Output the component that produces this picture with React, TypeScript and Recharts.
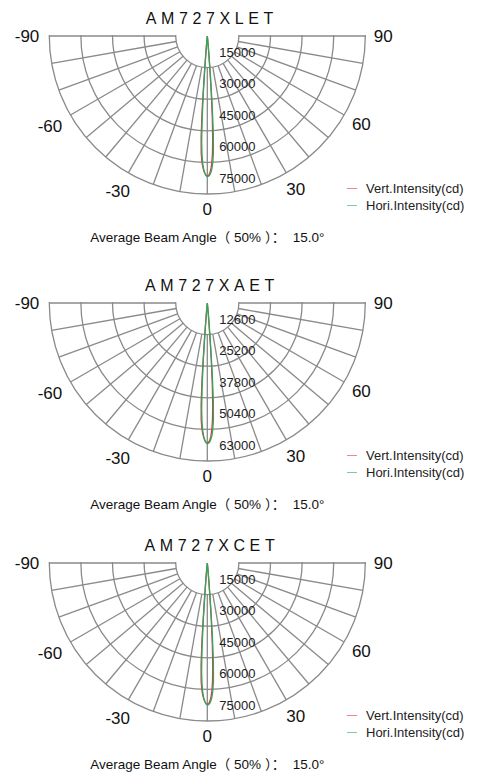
// @ts-nocheck
import { RadarChart, Radar, PolarGrid, PolarAngleAxis, PolarRadiusAxis, Legend } from "recharts";

// angles in degrees, -90 (left) .. 0 (down) .. 90 (right)
const ANGLES = [-90, -60, -30, -20, -10, -8, -7, -6, -5.5, -5, -4.5, -4, -3.5, -3, -2.5, -2, -1.5, -1, -0.5, 0,
  0.5, 1, 1.5, 2, 2.5, 3, 3.5, 4, 4.5, 5, 5.5, 6, 7, 8, 10, 20, 30, 60, 90];

const ANGLE_TICKS = [-90, -80, -70, -60, -50, -40, -30, -20, -10, 0, 10, 20, 30, 40, 50, 60, 70, 80, 90];

const XLET_RINGS = [15000, 30000, 45000, 60000, 75000];
const XAET_RINGS = [12600, 25200, 37800, 50400, 63000];
const XCET_RINGS = [15000, 30000, 45000, 60000, 75000];

const XLET_VERT = [0, 0, 0, 0, 0, 0, 0, 800, 2500, 7000, 18000, 35000, 48000, 55500, 59500, 62000, 64000, 65300, 66200, 66500,
  66200, 65200, 63500, 60500, 56000, 49000, 39000, 27000, 15000, 7000, 3000, 1200, 300, 0, 0, 0, 0, 0, 0];
const XLET_HORI = [0, 0, 0, 0, 0, 0, 0, 500, 1800, 5000, 13000, 27000, 41000, 51000, 57000, 61000, 63500, 65200, 66300, 66800,
  66600, 66000, 64800, 63000, 60000, 55500, 47000, 34000, 19000, 8000, 3000, 1000, 200, 0, 0, 0, 0, 0, 0];

const XAET_VERT = [0, 0, 0, 0, 0, 0, 0, 700, 2100, 5900, 15100, 29400, 40300, 46600, 50000, 52100, 53800, 54900, 55600, 55900,
  55600, 54800, 53300, 50800, 47000, 41200, 32800, 22700, 12600, 5900, 2500, 1000, 250, 0, 0, 0, 0, 0, 0];
const XAET_HORI = [0, 0, 0, 0, 0, 0, 0, 400, 1500, 4200, 10900, 22700, 34400, 42800, 47900, 51200, 53300, 54800, 55700, 56100,
  55900, 55400, 54400, 52900, 50400, 46600, 39500, 28600, 16000, 6700, 2500, 800, 170, 0, 0, 0, 0, 0, 0];

const XCET_VERT = [0, 0, 0, 0, 0, 0, 0, 900, 2700, 7300, 18500, 35500, 48500, 56000, 60000, 62600, 64600, 65900, 66800, 67100,
  66800, 65800, 64100, 61100, 56600, 49500, 39500, 27500, 15300, 7200, 3100, 1200, 300, 0, 0, 0, 0, 0, 0];
const XCET_HORI = [0, 0, 0, 0, 0, 0, 0, 500, 1900, 5200, 13400, 27500, 41500, 51600, 57600, 61600, 64100, 65800, 66900, 67400,
  67200, 66600, 65400, 63600, 60600, 56000, 47500, 34500, 19300, 8200, 3100, 1000, 200, 0, 0, 0, 0, 0, 0];

const BEAM = "15.0°";

const W = 477;
const H = 250;
const CX = 207.3;
const CY = 36;
const OUTER = 158;
const INNER = OUTER / 5;
const FONT = '"Liberation Sans", Arial, "Noto Sans CJK SC", sans-serif';
const RED = "#e2373a";
const GREEN = "#2ea85e";
const GRID = "#8a8a8a";

function AngleTick(props) {
  const { x, y, payload } = props;
  const v = payload.value;
  if (v % 30 !== 0) return <g />;
  const dx = x - CX, dy = y - CY;
  const d = Math.hypot(dx, dy) || 1;
  const ux = dx / d, uy = dy / d;
  const label = String(v);
  const w = label.length * 0.52 * 17;
  const r = 167 + Math.abs(ux) * w / 2 + Math.abs(uy) * 6.5;
  return (
    <text x={CX + ux * r} y={CY + uy * r} textAnchor="middle" dominantBaseline="central"
      fontSize={17} fill="#111" fontFamily={FONT}>{label}</text>
  );
}

function RadiusTick({ x, y, payload }) {
  return (
    <text x={x + 12} y={y - 15.5} dominantBaseline="central" fontSize={13} fill="#222" fontFamily={FONT}>
      {payload.value}
    </text>
  );
}

function LegendBox({ payload }) {
  return (
    <div style={{ fontFamily: FONT }}>
      {(payload || []).map(p => (
        <div key={p.value} style={{ display: "flex", alignItems: "center", height: 17 }}>
          <span style={{ width: 10, height: 0, borderTop: "1px solid " + p.color, opacity: 0.6, marginRight: 9 }} />
          <span style={{ fontSize: 13, color: "#222", whiteSpace: "nowrap" }}>{p.value}</span>
        </div>
      ))}
    </div>
  );
}

function Panel({ title, rings, vert, hori, top }) {
  const data = ANGLES.map((a, i) => ({ angle: a, vert: vert[i], hori: hori[i] }));
  const clipId = "lower-" + title;
  return (
    <div style={{ position: "absolute", left: 0, top, width: W, height: H, fontFamily: FONT }}>
      <div style={{ position: "absolute", left: CX - 100, top: CY - 17 - 10, width: 200, lineHeight: "20px",
        textAlign: "center", fontSize: 16, letterSpacing: 4.6, paddingLeft: 4.6, color: "#111", zIndex: 2 }}>
        {title}
      </div>
      <RadarChart width={W} height={H} data={data} cx={CX} cy={CY} innerRadius={INNER} outerRadius={OUTER}
        startAngle={180} endAngle={360} margin={{ top: 0, right: 0, bottom: 0, left: 0 }}>
        <defs>
          <clipPath id={clipId}>
            <rect x={0} y={CY - 1} width={W} height={H} />
          </clipPath>
        </defs>
        <PolarGrid gridType="circle" stroke={GRID} strokeWidth={1.3} clipPath={`url(#${clipId})`} />
        <PolarAngleAxis type="number" dataKey="angle" domain={[-90, 90]} ticks={ANGLE_TICKS}
          axisLine={false} tickLine={false} tick={(p) => <AngleTick {...p} />} />
        <PolarRadiusAxis type="number" angle={270} domain={[rings[0], rings[rings.length - 1]]} ticks={rings}
          allowDataOverflow axisLine={false} tickLine={false} tick={(p) => <RadiusTick {...p} />} />
        <Radar name="Vert.Intensity(cd)" dataKey="vert" stroke={RED} strokeWidth={1.3} fill="none"
          dot={false} isAnimationActive={false} />
        <Radar name="Hori.Intensity(cd)" dataKey="hori" stroke={GREEN} strokeWidth={1.3} fill="none"
          dot={false} isAnimationActive={false} />
        <Legend layout="vertical" align="right" verticalAlign="middle" content={<LegendBox />}
          itemSorter={(item) => (item.dataKey === "vert" ? 0 : 1)}
          wrapperStyle={{ left: 347, top: CY + 144, width: 130 }} />
      </RadarChart>
      <div style={{ position: "absolute", left: CX - 150, top: CY + 202 - 10, width: 300, lineHeight: "20px",
        textAlign: "center", fontSize: 13.5, color: "#111", whiteSpace: "pre" }}>
        {"Average Beam Angle（ 50% ）：  " + BEAM}
      </div>
    </div>
  );
}

export default function App() {
  return (
    <div style={{ position: "absolute", left: 0, top: 0, width: W, height: 777, background: "#fff" }}>
      <Panel title="AM727XLET" rings={XLET_RINGS} vert={XLET_VERT} hori={XLET_HORI} top={0} />
      <Panel title="AM727XAET" rings={XAET_RINGS} vert={XAET_VERT} hori={XAET_HORI} top={267} />
      <Panel title="AM727XCET" rings={XCET_RINGS} vert={XCET_VERT} hori={XCET_HORI} top={527} />
    </div>
  );
}
